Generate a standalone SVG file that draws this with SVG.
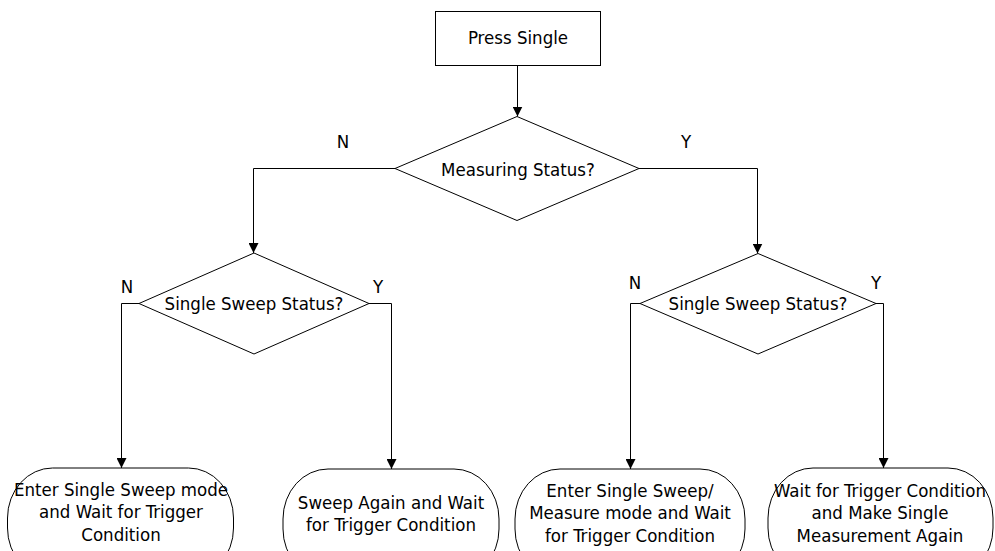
<svg xmlns="http://www.w3.org/2000/svg" width="995" height="551" viewBox="0 0 995 551">
<style>
.shape{fill:#fff;stroke:#000;stroke-width:1}
.conn{fill:none;stroke:#000;stroke-width:1}
text{font-family:"DejaVu Sans Condensed","DejaVu Sans",sans-serif;font-stretch:condensed;font-size:18.5px;fill:#000;text-anchor:middle}
</style>
<defs>
<marker id="arr" viewBox="0 0 10 10" refX="10" refY="5" markerWidth="10" markerHeight="10" markerUnits="userSpaceOnUse" orient="auto">
<path d="M0,0 L10,5 L0,10 z" fill="#000"/>
</marker>
</defs>
<g id="connectors">
<path class="conn" d="M517.5,66 V116.5" marker-end="url(#arr)"/>
<path class="conn" d="M395,168.5 H253.5 V253" marker-end="url(#arr)"/>
<path class="conn" d="M639,168.5 H757.5 V253.5" marker-end="url(#arr)"/>
<path class="conn" d="M139,303.5 H121.5 V468" marker-end="url(#arr)"/>
<path class="conn" d="M369,303.5 H391.5 V469" marker-end="url(#arr)"/>
<path class="conn" d="M640,303.5 H630.5 V469" marker-end="url(#arr)"/>
<path class="conn" d="M876,303.5 H883.5 V468" marker-end="url(#arr)"/>
<text x="343" y="148">N</text>
<text x="686" y="148">Y</text>
<text x="127" y="293">N</text>
<text x="378" y="293">Y</text>
<text x="635" y="289">N</text>
<text x="876" y="289">Y</text>
</g>
<g id="press-single">
<rect class="shape" x="435.5" y="11.5" width="165" height="54"/>
<text x="518" y="44">Press Single</text>
</g>
<g id="measuring-status">
<polygon class="shape" points="517,116.5 639,168.5 517,220.5 395,168.5"/>
<text x="518" y="175.5">Measuring Status?</text>
</g>
<g id="single-sweep-left">
<polygon class="shape" points="254,253 369,303.5 254,354 139,303.5"/>
<text x="254" y="310">Single Sweep Status?</text>
</g>
<g id="single-sweep-right">
<polygon class="shape" points="758,253.5 876,303.5 758,354 640,303.5"/>
<text x="758" y="310">Single Sweep Status?</text>
</g>
<g id="enter-single-sweep">
<rect class="shape" x="7.5" y="468" width="226" height="110" rx="45" ry="50"/>
<text x="121" y="496">Enter Single Sweep mode</text>
<text x="121" y="518">and Wait for Trigger</text>
<text x="121" y="541">Condition</text>
</g>
<g id="sweep-again">
<rect class="shape" x="283" y="469" width="216" height="110" rx="45" ry="50"/>
<text x="391" y="509">Sweep Again and Wait</text>
<text x="391" y="531">for Trigger Condition</text>
</g>
<g id="enter-single-sweep-measure">
<rect class="shape" x="515" y="469" width="230" height="110" rx="45" ry="50"/>
<text x="630" y="497">Enter Single Sweep/</text>
<text x="630" y="519">Measure mode and Wait</text>
<text x="630" y="542">for Trigger Condition</text>
</g>
<g id="wait-for-trigger">
<rect class="shape" x="768" y="468" width="225" height="110" rx="45" ry="50"/>
<text x="880" y="497">Wait for Trigger Condition</text>
<text x="880" y="519">and Make Single</text>
<text x="880" y="542">Measurement Again</text>
</g>
</svg>
